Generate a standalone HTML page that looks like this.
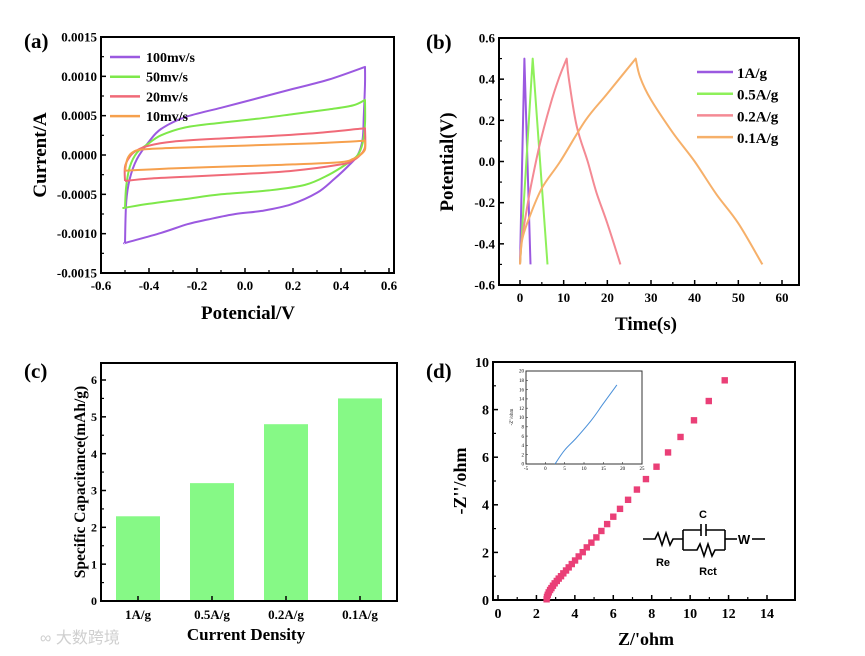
<!DOCTYPE html>
<html><head><meta charset="utf-8"><style>
html,body{margin:0;padding:0;background:#fff;}
svg{display:block;font-family:"Liberation Serif",serif;font-weight:bold;}
</style></head><body>
<svg id="s" width="865" height="656" viewBox="0 0 865 656" xmlns="http://www.w3.org/2000/svg">
<rect width="865" height="656" fill="#fff"/>
<text x="24" y="48" font-size="21">(a)</text>
<text x="426" y="49" font-size="21">(b)</text>
<text x="24" y="378" font-size="21">(c)</text>
<text x="426" y="378" font-size="21">(d)</text>
<text x="248" y="319" font-size="19" text-anchor="middle">Potencial/V</text>
<text transform="translate(46,155) rotate(-90)" font-size="19" text-anchor="middle">Current/A</text>
<text x="646" y="330" font-size="19" text-anchor="middle">Time(s)</text>
<text transform="translate(453,162) rotate(-90)" font-size="19" text-anchor="middle">Potential(V)</text>
<text x="246" y="640" font-size="17" text-anchor="middle">Current Density</text>
<text transform="translate(85,482) rotate(-90)" font-size="15.5" text-anchor="middle">Specific Capacitance(mAh/g)</text>
<text x="646" y="645" font-size="18" text-anchor="middle">Z/'ohm</text>
<text transform="translate(466,481) rotate(-90)" font-size="18" text-anchor="middle">-Z''/ohm</text>
<text x="40" y="643" font-size="16" fill="#cfcfcf" font-family="Liberation Sans, Noto Sans CJK SC, sans-serif" font-weight="normal">∞ 大数跨境</text>
<g id="g"></g>
</svg>
<script>
// ---- Panel (a) CV data (current in mA) ----
const cvLabels = ["100mv/s","50mv/s","20mv/s","10mv/s"];
const cvColors = ["#9b59e0","#7ee84a","#f06a78","#f6a04d"];
const cv100x = [-0.5,-0.495,-0.48,-0.45,-0.4,-0.35,-0.25,-0.1,0.05,0.2,0.35,0.5,0.5,0.495,0.49,0.47,0.43,0.37,0.30,0.19,0.07,-0.04,-0.155,-0.24,-0.35,-0.49,-0.5];
const cv100y = [-1.12,-0.6,-0.3,-0.05,0.17,0.33,0.48,0.6,0.72,0.84,0.96,1.12,0.9,0.5,0.2,0.0,-0.14,-0.31,-0.48,-0.63,-0.71,-0.75,-0.82,-0.88,-0.99,-1.11,-1.12];
const cv50x = [-0.5,-0.495,-0.48,-0.45,-0.4,-0.35,-0.25,-0.1,0.05,0.2,0.35,0.45,0.5,0.5,0.49,0.47,0.43,0.35,0.25,0.1,-0.1,-0.25,-0.4,-0.5,-0.5];
const cv50y = [-0.67,-0.4,-0.15,0.03,0.15,0.25,0.35,0.41,0.46,0.52,0.58,0.63,0.7,0.4,0.15,0.0,-0.1,-0.25,-0.38,-0.45,-0.5,-0.56,-0.62,-0.67,-0.67];
const cv20x = [-0.5,-0.5,-0.48,-0.45,-0.4,-0.3,-0.1,0.1,0.3,0.5,0.5,0.48,0.45,0.4,0.2,0,-0.2,-0.4,-0.5];
const cv20y = [-0.33,-0.15,-0.02,0.06,0.12,0.17,0.21,0.24,0.28,0.34,0.1,0.0,-0.07,-0.12,-0.2,-0.24,-0.27,-0.3,-0.33];
const cv10x = [-0.5,-0.49,-0.47,-0.43,-0.3,0,0.3,0.5,0.5,0.48,0.45,0.4,0.2,0,-0.3,-0.5];
const cv10y = [-0.2,-0.05,0.03,0.07,0.09,0.12,0.15,0.18,0.07,0.0,-0.05,-0.09,-0.12,-0.14,-0.17,-0.2];
const cvXTicks = [-0.6,-0.4,-0.2,0.0,0.2,0.4,0.6];
const cvYTicks = [-0.0015,-0.0010,-0.0005,0.0000,0.0005,0.0010,0.0015];
// ---- Panel (b) GCD ----
const gcdLabels = ["1A/g","0.5A/g","0.2A/g","0.1A/g"];
const gcd1t = [0,1.0,2.4]; const gcd1v = [-0.5,0.5,-0.5];
const gcd05t = [0,2.9,6.3]; const gcd05v = [-0.5,0.5,-0.5];
const gcd02t = [0,0.3,1,2.5,4.5,7,9,10.7,11.2,13,15.5,17.5,20,23];
const gcd02v = [-0.5,-0.4,-0.3,-0.12,0.08,0.28,0.41,0.5,0.4,0.17,0.0,-0.15,-0.3,-0.5];
const gcd01t = [0,0.5,2,5,9.2,15,20,26.5,27.5,30,35,40,45,50,55.5];
const gcd01v = [-0.5,-0.38,-0.28,-0.13,0.0,0.2,0.33,0.5,0.41,0.3,0.14,0.0,-0.16,-0.3,-0.5];
const gcdXTicks = [0,10,20,30,40,50,60];
const gcdYTicks = [-0.6,-0.4,-0.2,0.0,0.2,0.4,0.6];
// ---- Panel (c) bars ----
const barCats = ["1A/g","0.5A/g","0.2A/g","0.1A/g"];
const barVals = [2.3,3.2,4.8,5.5];
const barYTicks = [0,1,2,3,4,5,6];
// ---- Panel (d) EIS ----
const eisX = [2.53,2.55,2.59,2.64,2.71,2.78,2.86,2.95,3.06,3.16,3.28,3.40,3.54,3.68,3.84,4.01,4.2,4.41,4.62,4.86,5.12,5.38,5.68,6.0,6.35,6.77,7.23,7.7,8.25,8.85,9.5,10.2,10.97,11.8];
const eisY = [0.03,0.13,0.22,0.32,0.42,0.5,0.6,0.7,0.8,0.9,1.0,1.12,1.24,1.37,1.51,1.66,1.83,2.01,2.21,2.41,2.63,2.9,3.19,3.5,3.83,4.21,4.64,5.08,5.6,6.2,6.85,7.55,8.36,9.23];
const eisXTicks = [0,2,4,6,8,10,12,14];
const eisYTicks = [0,2,4,6,8,10];
const insetX = [2.5,5,8,12,15,18.5];
const insetY = [0,3,5.6,9.5,13,17];
const insetXTicks = [-5,0,5,10,15,20,25];
const insetYTicks = [0,2,4,6,8,10,12,14,16,18,20];

const NS="http://www.w3.org/2000/svg";
const G=document.getElementById('g');
function mk(tag,attrs,parent){const e=document.createElementNS(NS,tag);for(const k in attrs)e.setAttribute(k,attrs[k]);(parent||G).appendChild(e);return e;}
function lin(d0,d1,p0,p1){return v=>p0+(v-d0)*(p1-p0)/(d1-d0);}

function axes(box,sx,sy,xt,yt,xf,yf,fs,name,minorX,minorY){
  const r=mk('rect',{x:box[0],y:box[1],width:box[2]-box[0],height:box[3]-box[1],fill:'none',stroke:'#000','stroke-width':2});
  
  
  xt.forEach((v,i)=>{const x=sx(v);
    mk('line',{x1:x,x2:x,y1:box[3],y2:box[3]-5,stroke:'#000','stroke-width':1.5});
    const t=mk('text',{x:x,y:box[3]+fs+4,'font-size':fs,'text-anchor':'middle'});t.textContent=xf(v);
    
    
    if(minorX&&i<xt.length-1){const xm=sx((v+xt[i+1])/2);mk('line',{x1:xm,x2:xm,y1:box[3],y2:box[3]-3,stroke:'#000','stroke-width':1.2});}
  });
  yt.forEach((v,i)=>{const y=sy(v);
    mk('line',{x1:box[0],x2:box[0]+5,y1:y,y2:y,stroke:'#000','stroke-width':1.5});
    const t=mk('text',{x:box[0]-4,y:y+fs*0.35,'font-size':fs,'text-anchor':'end'});t.textContent=yf(v);
    
    
    if(minorY&&i<yt.length-1){const ym=sy((v+yt[i+1])/2);mk('line',{x1:box[0],x2:box[0]+3,y1:ym,y2:ym,stroke:'#000','stroke-width':1.2});}
  });
}
// smooth path (Catmull-Rom) with sharp corners at given indices
function poly(xs,ys,sx,sy,color,w,name,corners){
  const P=xs.map((v,i)=>[sx(v),sy(ys[i])]);
  const cs=new Set(corners||[]);
  let d='M'+P[0][0].toFixed(1)+','+P[0][1].toFixed(1);
  for(let i=0;i<P.length-1;i++){
    const p1=P[i],p2=P[i+1];
    const p0=(i>0&&!cs.has(i))?P[i-1]:p1;
    const p3=(i+2<P.length&&!cs.has(i+1))?P[i+2]:p2;
    const c1=[p1[0]+(p2[0]-p0[0])/6,p1[1]+(p2[1]-p0[1])/6];
    const c2=[p2[0]-(p3[0]-p1[0])/6,p2[1]-(p3[1]-p1[1])/6];
    d+=' C'+c1[0].toFixed(1)+','+c1[1].toFixed(1)+' '+c2[0].toFixed(1)+','+c2[1].toFixed(1)+' '+p2[0].toFixed(1)+','+p2[1].toFixed(1);
  }
  const p=mk('path',{d:d,fill:'none',stroke:color,'stroke-width':w,'stroke-linejoin':'round'});
  
  
}
function peakIndex(arr){let m=0;arr.forEach((v,i)=>{if(v>arr[m])m=i;});return m;}

// Panel a
{const box=[101,37,394,273];
 const sx=lin(-0.6,0.6,101,389), sy=lin(-0.0015,0.0015,273,37);
 const syA=v=>sy(v/1000);
 axes(box,sx,sy,cvXTicks,cvYTicks,v=>v.toFixed(1),v=>v.toFixed(4),13,'cv',true,true);
 const xs=[cv100x,cv50x,cv20x,cv10x], ys=[cv100y,cv50y,cv20y,cv10y];
 for(let i=0;i<4;i++){poly(xs[i],ys[i],sx,syA,cvColors[i],2,'cv-curve-'+cvLabels[i].replace('/','-'),[peakIndex(ys[i])]);}
 cvLabels.forEach((l,i)=>{const y=57+i*19.7;
  mk('line',{x1:110,x2:140,y1:y,y2:y,stroke:cvColors[i],'stroke-width':2.5});
  const t=mk('text',{x:146,y:y+5,'font-size':14});t.textContent=l;
  
  });
}
// Panel b
{const box=[499,38,799,285];
 const sx=lin(0,60,520,782), sy=lin(-0.6,0.6,285,38);
 axes(box,sx,sy,gcdXTicks,gcdYTicks,v=>String(v),v=>v.toFixed(1),13,'gcd',true,true);
 const ts=[gcd1t,gcd05t,gcd02t,gcd01t], vs=[gcd1v,gcd05v,gcd02v,gcd01v];
 const cols=["#9b59e0","#8ef05a","#f48a94","#f6b06a"];
 for(let i=0;i<4;i++){poly(ts[i],vs[i],sx,sy,cols[i],2,'gcd-curve-'+gcdLabels[i].replace('/','-'),[peakIndex(vs[i])]);}
 gcdLabels.forEach((l,i)=>{const y=72+i*21.7;
  mk('line',{x1:697,x2:733,y1:y,y2:y,stroke:cols[i],'stroke-width':2.5});
  const t=mk('text',{x:737,y:y+6,'font-size':15});t.textContent=l;
  
  });
}
// Panel c
{const sy=lin(0,6,601,380);
 const band=74, x0=101;
 axes([101,363,397,601],v=>0,sy,[],barYTicks,v=>'',v=>String(v),12,'cap',false,true);
 barCats.forEach((c,i)=>{const cx=x0+band*(i+0.5);
  const b=mk('rect',{x:cx-22,y:sy(barVals[i]),width:44,height:sy(0)-sy(barVals[i]),fill:'#86f986'});
  
  
  mk('line',{x1:cx,x2:cx,y1:601,y2:596,stroke:'#000','stroke-width':1.5});
  const t=mk('text',{x:cx,y:619,'font-size':13,'text-anchor':'middle'});t.textContent=c;
  
  });
 mk('rect',{x:101,y:363,width:296,height:238,fill:'none',stroke:'#000','stroke-width':2});
}
// Panel d
{const box=[493,362,795,600];
 const sx=lin(0,14,498,767), sy=lin(0,10,600,362);
 axes(box,sx,sy,eisXTicks,eisYTicks,v=>String(v),v=>String(v),14,'eis',true,true);
 eisX.forEach((v,i)=>{const r=mk('rect',{x:sx(v)-3.2,y:sy(eisY[i])-3.2,width:6.4,height:6.4,fill:'#ea3f77'});
  
  });
 const ix=lin(-5,25,526,642), iy=lin(0,20,464,371);
 mk('rect',{x:526,y:371,width:116,height:93,fill:'#fff',stroke:'#333','stroke-width':1});
 insetXTicks.forEach(v=>{mk('line',{x1:ix(v),x2:ix(v),y1:464,y2:462,stroke:'#333','stroke-width':0.6});
  const t=mk('text',{x:ix(v),y:470,'font-size':5,'font-weight':'normal','text-anchor':'middle'});t.textContent=v;
  
  });
 insetYTicks.forEach(v=>{mk('line',{x1:526,x2:528,y1:iy(v),y2:iy(v),stroke:'#333','stroke-width':0.6});
  const t=mk('text',{x:524,y:iy(v)+1.7,'font-size':5,'font-weight':'normal','text-anchor':'end'});t.textContent=v;
  
  });
 const it=mk('text',{transform:'translate(513,417) rotate(-90)','font-size':5,'font-weight':'normal','text-anchor':'middle'});it.textContent="-Z''/ohm";
 poly(insetX,insetY,ix,iy,'#4a90d9',1,'inset-eis-line',[]);
 const C=mk('g',{stroke:'#000','stroke-width':1.6,fill:'none'});
 
 
 mk('polyline',{points:'643,539 655,539 658,533 662,545 666,533 670,545 673,539 683,539'},C);
 mk('line',{x1:683,y1:530,x2:683,y2:550},C);
 mk('line',{x1:683,y1:530,x2:701,y2:530},C);
 mk('line',{x1:701,y1:524,x2:701,y2:536},C);
 mk('line',{x1:706,y1:524,x2:706,y2:536},C);
 mk('line',{x1:706,y1:530,x2:725,y2:530},C);
 mk('polyline',{points:'683,550 697,550 700,544 704,556 708,544 712,556 715,550 725,550'},C);
 mk('line',{x1:725,y1:530,x2:725,y2:550},C);
 mk('line',{x1:725,y1:539,x2:737,y2:539},C);
 mk('line',{x1:752,y1:539,x2:765,y2:539},C);
 const tw=mk('text',{x:744,y:544,'font-size':13,'font-family':'Liberation Sans, sans-serif','text-anchor':'middle'});tw.textContent='W';
 const tc=mk('text',{x:703,y:518,'font-size':11,'font-family':'Liberation Sans, sans-serif','text-anchor':'middle'});tc.textContent='C';
 const tr=mk('text',{x:663,y:566,'font-size':11,'font-family':'Liberation Sans, sans-serif','text-anchor':'middle'});tr.textContent='Re';
 const trc=mk('text',{x:708,y:575,'font-size':11,'font-family':'Liberation Sans, sans-serif','text-anchor':'middle'});trc.textContent='Rct';
}
</script>
</body></html>
